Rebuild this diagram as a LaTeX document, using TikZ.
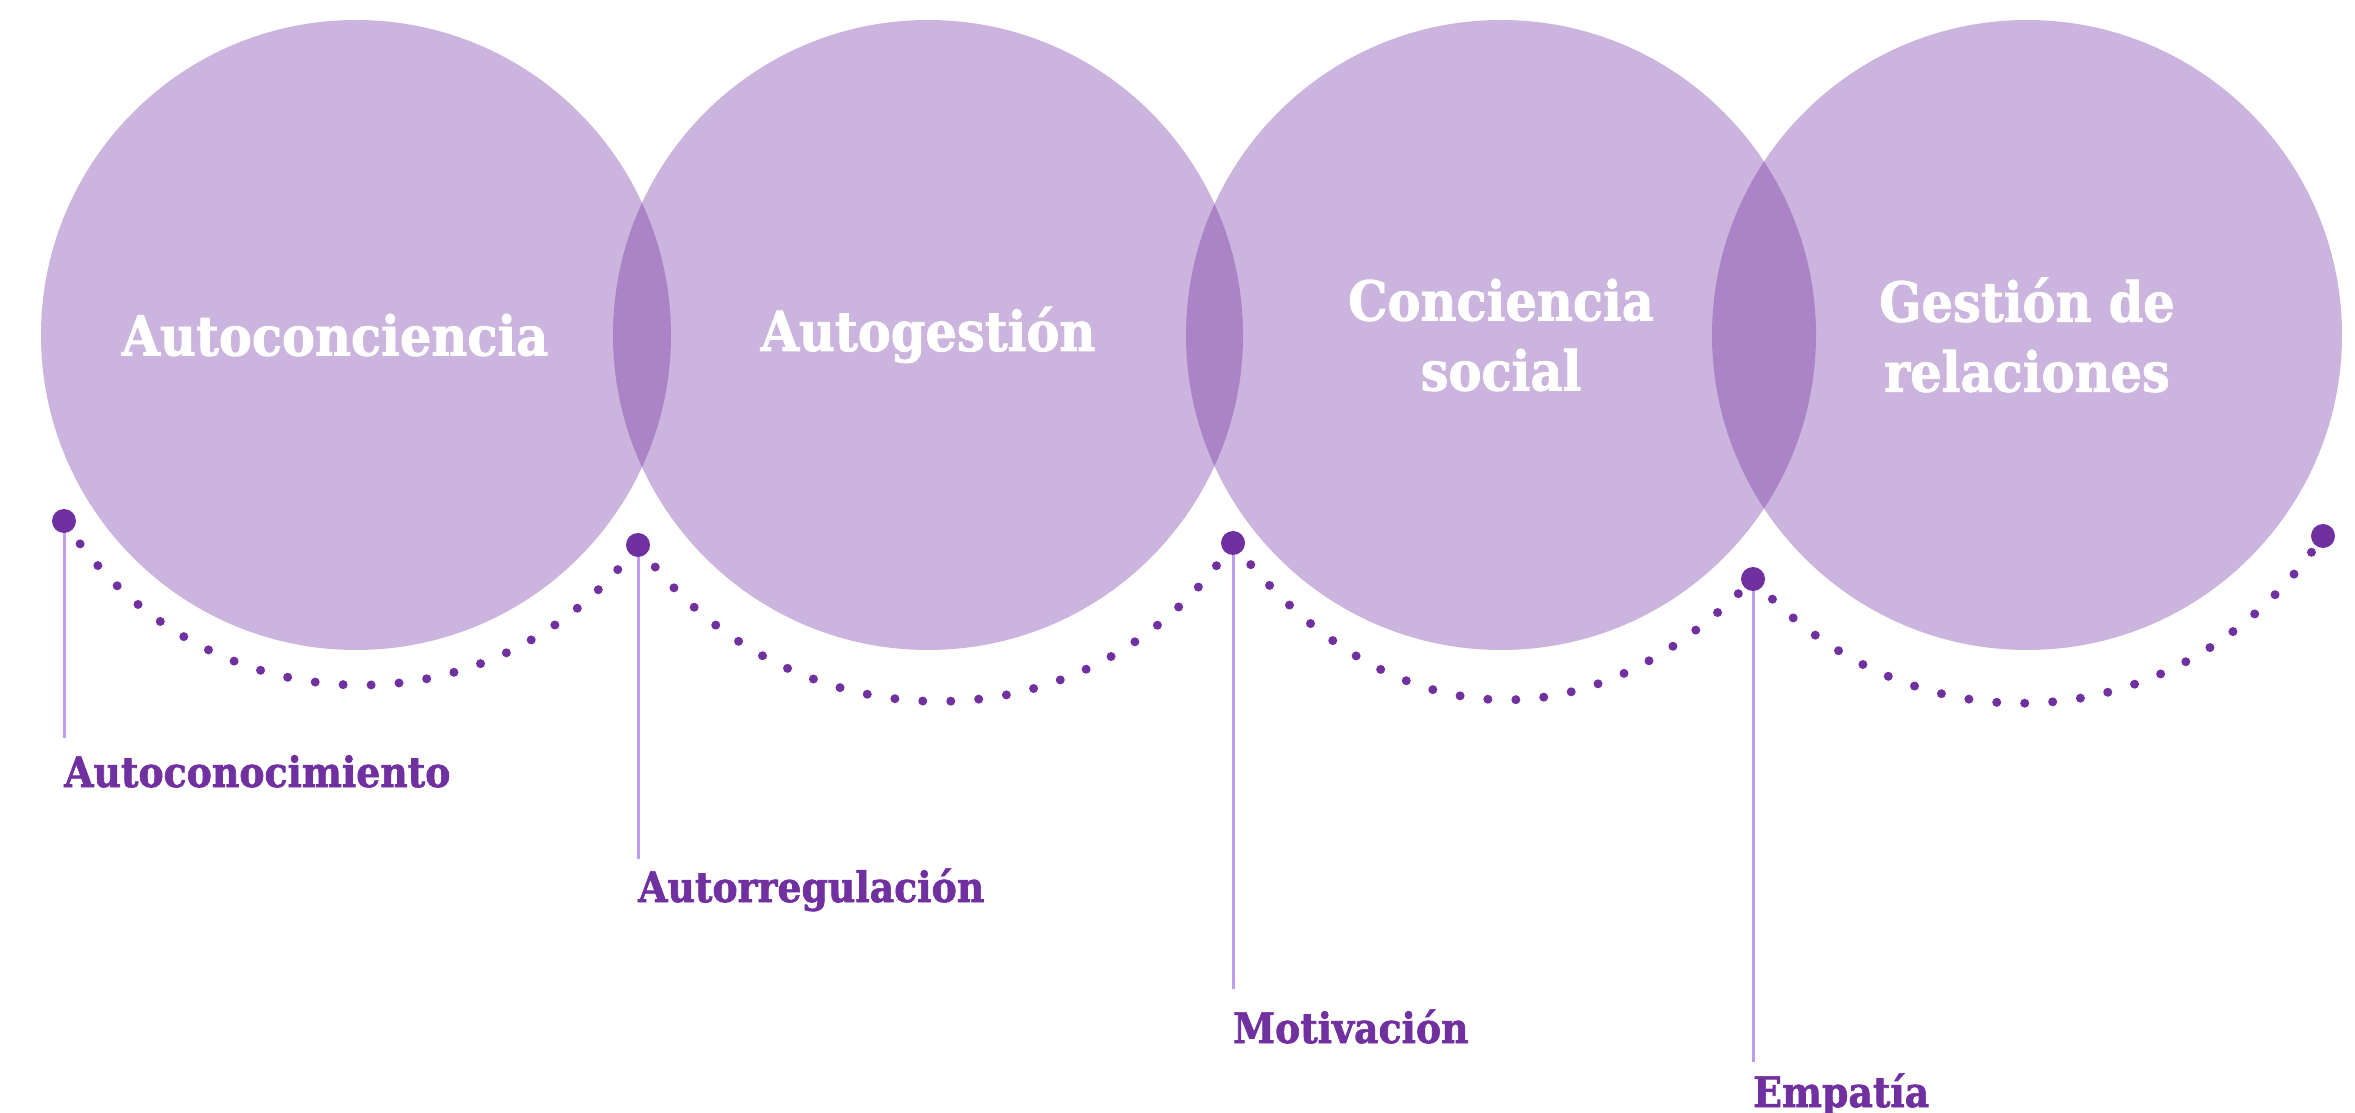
\documentclass[tikz,border=0pt]{standalone}
\usepackage{fontspec}
\setmainfont{DejaVu Serif Condensed}[BoldFeatures={FakeBold=1.5}]
\usetikzlibrary{positioning,calc}
\definecolor{plum}{HTML}{7030A0}
\definecolor{stemcol}{HTML}{BF9CF0}

\begin{document}
\begin{tikzpicture}[x=1pt, y=1pt,
    disc/.style={circle, fill=plum, fill opacity=0.36, text opacity=1, text=white,
        minimum size=630pt, inner sep=0pt, outer sep=0pt, align=center,
        font=\fontsize{55}{70}\selectfont\bfseries},
    bigdot/.style={circle, fill=plum, minimum size=24pt, inner sep=0pt},
    beads/.style={plum, line width=9pt, line cap=round, dash pattern=on 0pt off 28pt},
    stem/.style={stemcol, line width=3pt},
    tag/.style={text=plum, anchor=base west, inner sep=0pt,
        font=\fontsize{42}{50}\selectfont\bfseries}]
    \useasboundingbox (0,0) rectangle (2355,1112);
    \node[disc] (c1) at (356,777) {\hspace*{-42pt}Autoconciencia};
    \node[disc] (c2) [right=-58pt of c1] {Autogestión};
    \node[disc] (c3) [right=-57pt of c2] {Conciencia\\social};
    \node[disc] (c4) [right=-104pt of c3] {Gestión de\\relaciones};
    % anchor points of the bead strings
    \coordinate (d1) at (64,591);
    \coordinate (d2) at (638,567);
    \coordinate (d3) at (1233,569);
    \coordinate (d4) at (1753,533);
    \coordinate (d5) at (2323,576);
    \draw[beads] (d1) to[out=-57, in=233, looseness=1.1] (d2);
    \draw[beads] (d2) to[out=-54, in=236, looseness=1.1] (d3);
    \draw[beads] (d3) to[out=-52, in=226, looseness=1.2] (d4);
    \draw[beads] (d4) to[out=-48, in=236, looseness=1.1] (d5);
    % stems down to the labels
    \coordinate (e1) at (d1 |- 0,374);
    \coordinate (e2) at (d2 |- 0,253);
    \coordinate (e3) at (d3 |- 0,123);
    \coordinate (e4) at (d4 |- 0,50);
    \draw[stem] (d1) -- (e1);
    \draw[stem] (d2) -- (e2);
    \draw[stem] (d3) -- (e3);
    \draw[stem] (d4) -- (e4);
    \node[bigdot] (p1) at (d1) {};
    \node[bigdot] (p2) at (d2) {};
    \node[bigdot] (p3) at (d3) {};
    \node[bigdot] (p4) at (d4) {};
    \node[bigdot] (p5) at (d5) {};
    \node[tag] (t1) at ($(e1)+(0,-49)$) {Autoconocimiento};
    \node[tag] (t2) at ($(e2)+(0,-43)$) {Autorregulación};
    \node[tag] (t3) at ($(e3)+(0,-54)$) {Motivación};
    \node[tag] (t4) at ($(e4)+(0,-45)$) {Empatía};
\end{tikzpicture}
\end{document}
